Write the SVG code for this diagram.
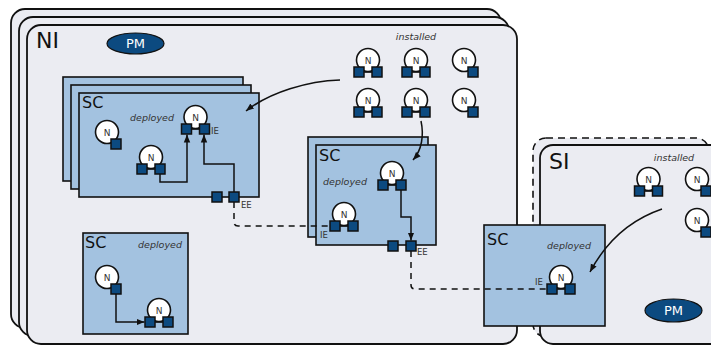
<svg xmlns="http://www.w3.org/2000/svg" xmlns:xlink="http://www.w3.org/1999/xlink" width="711" height="347" viewBox="0 0 711 347">
  <style>
    .frame { fill: #ebecf2; stroke: #111; stroke-width: 1.8; }
    .frame-dash { fill: #ebecf2; stroke: #111; stroke-width: 1.6; stroke-dasharray: 7 5; }
    .sc { fill: #a3c2e0; stroke: #111; stroke-width: 1.6; }
    .port { fill: #0c4a80; stroke: #111; stroke-width: 1.5; }
    .pm { fill: #0c4a80; stroke: #111; stroke-width: 1.2; }
    .pm-text { fill: #fff; font-family: "DejaVu Sans", sans-serif; font-size: 13px; text-anchor: middle; }
    .node-c { fill: #fff; stroke: #111; stroke-width: 1.6; }
    .node-l { stroke: #111; stroke-width: 1.6; }
    .n { fill: #333; font-family: "DejaVu Sans", sans-serif; font-size: 9px; text-anchor: middle; }
    .big { fill: #111; font-family: "DejaVu Sans", sans-serif; font-size: 22px; }
    .sc-t { fill: #111; font-family: "DejaVu Sans", sans-serif; font-size: 16px; }
    .state { fill: #333; font-family: "DejaVu Sans", sans-serif; font-size: 9.5px; font-style: italic; text-anchor: middle; }
    .ep { fill: #333; font-family: "DejaVu Sans", sans-serif; font-size: 8.5px; }
    .wire { fill: none; stroke: #111; stroke-width: 1.5; }
    .dash { fill: none; stroke: #111; stroke-width: 1.5; stroke-dasharray: 6 5; }
  </style>
  <defs>
    <marker id="arrow" markerUnits="userSpaceOnUse" markerWidth="8" markerHeight="8" viewBox="0 0 8 8" refX="8" refY="4" orient="auto">
      <path d="M0,0.8 L8,4 L0,7.2 Z" fill="#111"/>
    </marker>
    <!-- node with two ports -->
    <g id="n2">
      <circle class="node-c" cx="0" cy="0" r="11.5"/>
      <line class="node-l" x1="-9" y1="12" x2="9" y2="12"/>
      <rect class="port" x="-14" y="7" width="10" height="10"/>
      <rect class="port" x="4" y="7" width="10" height="10"/>
    </g>
    <!-- node with one port -->
    <g id="n1">
      <circle class="node-c" cx="0" cy="0" r="11.5"/>
      <rect class="port" x="4" y="7" width="10" height="10"/>
    </g>
  </defs>

  <!-- NI: stacked node instances -->
  <g id="NI">
    <rect class="frame" x="11" y="9" width="490" height="319" rx="14"/>
    <rect class="frame" x="19" y="17" width="490" height="319" rx="14"/>
    <rect class="frame" x="27" y="25" width="490" height="319" rx="14"/>
    <text class="big" x="36" y="48">NI</text>
    <text class="state" x="416" y="40">installed</text>
  </g>
  <g id="NI-PM">
    <ellipse class="pm" cx="135.5" cy="43.5" rx="28.5" ry="10.5"/>
    <text class="pm-text" x="135.5" y="48">PM</text>
  </g>

  <!-- SI: service instance -->
  <g id="SI">
    <rect class="frame-dash" x="533" y="138" width="176" height="199" rx="13"/>
    <rect class="frame" x="540" y="145" width="200" height="199" rx="13"/>
    <text class="big" x="549" y="169">SI</text>
    <text class="state" x="674" y="161">installed</text>
  </g>
  <g id="SI-PM">
    <ellipse class="pm" cx="673.5" cy="310.5" rx="28.5" ry="11.5"/>
    <text class="pm-text" x="673.5" y="315">PM</text>
  </g>

  <!-- service containers -->
  <g id="SC1">
    <rect class="sc" x="63" y="77" width="180" height="104"/>
    <rect class="sc" x="71" y="85" width="180" height="104"/>
    <rect class="sc" x="79" y="93" width="180" height="104"/>
    <text class="sc-t" x="82" y="108">SC</text>
    <text class="state" x="152" y="121">deployed</text>
    <text class="ep" x="211" y="134">IE</text>
    <text class="ep" x="241" y="208">EE</text>
  </g>
  <g id="SC2">
    <rect class="sc" x="308" y="137" width="120" height="100"/>
    <rect class="sc" x="316" y="145" width="120" height="100"/>
    <text class="sc-t" x="319" y="161">SC</text>
    <text class="state" x="345" y="185">deployed</text>
    <text class="ep" x="320" y="238">IE</text>
    <text class="ep" x="417" y="255">EE</text>
  </g>
  <g id="SC3">
    <rect class="sc" x="83" y="233" width="105" height="101"/>
    <text class="sc-t" x="85" y="248">SC</text>
    <text class="state" x="160" y="248">deployed</text>
  </g>
  <g id="SC4">
    <rect class="sc" x="484" y="225" width="121" height="101"/>
    <text class="sc-t" x="487" y="245">SC</text>
    <text class="state" x="569" y="249">deployed</text>
    <text class="ep" x="535" y="285">IE</text>
  </g>

  <!-- connectors -->
  <g id="connectors">
    <path class="wire" d="M340,80 C308,81 270,92 246,111" marker-end="url(#arrow)"/>
    <path class="wire" d="M421,121 C424,135 422,150 413,160" marker-end="url(#arrow)"/>
    <path class="wire" d="M662,209 Q615,225 590,272" marker-end="url(#arrow)"/>
    <path class="wire" d="M160,174 V182 H187 V134.5" marker-end="url(#arrow)"/>
    <path class="wire" d="M234,192 V164 H204 V134.5" marker-end="url(#arrow)"/>
    <path class="wire" d="M401,190 V217 H411 V240.5" marker-end="url(#arrow)"/>
    <path class="wire" d="M116,294 V322 H144.5" marker-end="url(#arrow)"/>
    <path class="dash" d="M234,202 V222 Q234,226 238,226 H330"/>
    <path class="dash" d="M411,251 V285 Q411,289 415,289 H547"/>
  </g>

  <!-- installed nodes in NI -->
  <g id="ni-n1"><use xlink:href="#n2" x="368" y="60"/><text class="n" x="368" y="63.5">N</text></g>
  <g id="ni-n2"><use xlink:href="#n2" x="416" y="60"/><text class="n" x="416" y="63.5">N</text></g>
  <g id="ni-n3"><use xlink:href="#n1" x="464" y="60"/><text class="n" x="464" y="63.5">N</text></g>
  <g id="ni-n4"><use xlink:href="#n2" x="368" y="100"/><text class="n" x="368" y="103.5">N</text></g>
  <g id="ni-n5"><use xlink:href="#n2" x="416" y="100"/><text class="n" x="416" y="103.5">N</text></g>
  <g id="ni-n6"><use xlink:href="#n1" x="464" y="100"/><text class="n" x="464" y="103.5">N</text></g>

  <!-- deployed nodes in SC1 -->
  <g id="sc1-a"><use xlink:href="#n1" x="107" y="132"/><text class="n" x="107" y="135.5">N</text></g>
  <g id="sc1-b"><use xlink:href="#n2" x="151" y="157"/><text class="n" x="151" y="160.5">N</text></g>
  <g id="sc1-c"><use xlink:href="#n2" x="195.5" y="117"/><text class="n" x="195.5" y="120.5">N</text></g>
  <g id="sc1-ee">
    <rect class="port" x="212" y="192" width="10" height="10"/>
    <rect class="port" x="229" y="192" width="10" height="10"/>
  </g>

  <!-- deployed nodes in SC2 -->
  <g id="sc2-d"><use xlink:href="#n2" x="392" y="173"/><text class="n" x="392" y="176.5">N</text></g>
  <g id="sc2-e"><use xlink:href="#n2" x="344" y="214"/><text class="n" x="344" y="217.5">N</text></g>
  <g id="sc2-ee">
    <rect class="port" x="388" y="241" width="10" height="10"/>
    <rect class="port" x="406" y="241" width="10" height="10"/>
  </g>

  <!-- deployed nodes in SC3 -->
  <g id="sc3-f"><use xlink:href="#n1" x="107" y="277"/><text class="n" x="107" y="280.5">N</text></g>
  <g id="sc3-g"><use xlink:href="#n2" x="159" y="310"/><text class="n" x="159" y="313.5">N</text></g>

  <!-- deployed node in SC4 -->
  <g id="sc4-h"><use xlink:href="#n2" x="561" y="277"/><text class="n" x="561" y="280.5">N</text></g>

  <!-- installed nodes in SI -->
  <g id="si-n1"><use xlink:href="#n2" x="648.5" y="179"/><text class="n" x="648.5" y="182.5">N</text></g>
  <g id="si-n2"><use xlink:href="#n1" x="697" y="179"/><text class="n" x="697" y="182.5">N</text></g>
  <g id="si-n3"><use xlink:href="#n1" x="697" y="220"/><text class="n" x="697" y="223.5">N</text></g>
</svg>
